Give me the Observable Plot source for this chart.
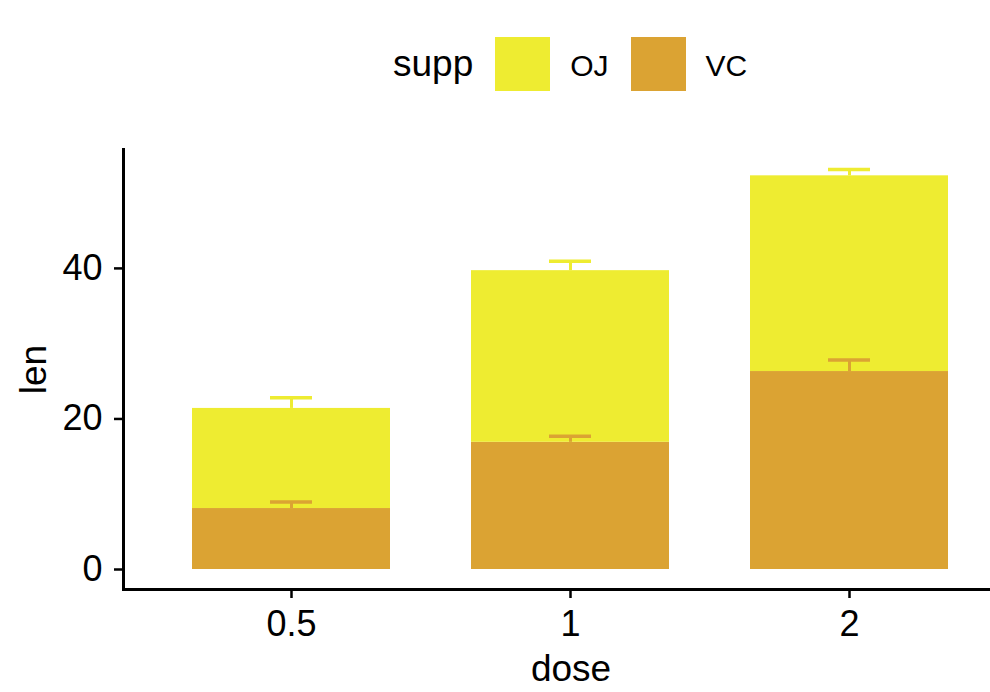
<!DOCTYPE html>
<html>
<head>
<meta charset="utf-8">
<script src="https://cdn.jsdelivr.net/npm/d3@7"></script>
<script src="https://cdn.jsdelivr.net/npm/@observablehq/plot@0.6"></script>
<style>
  html, body { margin: 0; padding: 0; background: #fff; overflow: hidden; }
  body { width: 990px; height: 692px; font-family: "Liberation Sans", Arial, Helvetica, sans-serif; }
  #legend { position: relative; height: 110px; }
  #legend .row { position: absolute; left: 393px; top: 37px; height: 54px; display: flex; align-items: center; }
  #legend .title { font-size: 37px; margin-right: 22px; color: #000; }
  #legend .sw { width: 55px; height: 54px; margin-right: 20px; }
  #legend .lab { font-size: 30px; margin-right: 22px; color: #000; position: relative; top: 2px; }
  #chart { width: 990px; overflow: hidden; }
  #chart svg { max-width: none !important; display: block; }
  #chart svg g[aria-label="y-axis tick label"] text,
  #chart svg g[aria-label="x-axis tick label"] text { font-size: 36px; }
</style>
</head>
<body>
<div id="legend"><div class="row"></div></div>
<div id="chart"></div>
<script>
// Data (ToothGrowth summary)
const doses = ["0.5", "1", "2"];
const supps = ["OJ", "VC"];
const suppColors = ["#EEEC31", "#DBA333"];
const vcMean = [8.1, 16.9, 26.3];
const vcSe   = [0.87, 0.80, 1.52];
const ojMean = [13.3, 22.8, 26.0];
const ojSe   = [1.41, 1.24, 0.84];
const yTicks = [0, 20, 40];

// Rows in stacking order: VC at bottom, OJ on top
const rows = [];
doses.forEach((d, i) => {
  rows.push({dose: d, supp: "VC", len: vcMean[i]});
  rows.push({dose: d, supp: "OJ", len: ojMean[i]});
});
// Upper error bars at the stacked tops
const errs = [];
doses.forEach((d, i) => {
  const vTop = vcMean[i];
  const oTop = vcMean[i] + ojMean[i];
  errs.push({dose: d, supp: "VC", y1: vTop, y2: vTop + vcSe[i]});
  errs.push({dose: d, supp: "OJ", y1: oTop, y2: oTop + ojSe[i]});
});
const yMax = d3.max(errs, e => e.y2);
const pad = 0.05 * yMax;

// Legend
const row = document.querySelector("#legend .row");
row.innerHTML = `<span class="title">supp</span>` +
  supps.map((s, i) => `<span class="sw" style="background:${suppColors[i]}"></span><span class="lab">${s}</span>`).join("");

const font = `"Liberation Sans", Arial, Helvetica, sans-serif`;
const chart = Plot.plot({
  width: 1018,
  height: 582,
  marginTop: 39,
  marginBottom: 103,
  marginLeft: 123,
  marginRight: 0,
  style: {fontFamily: font, fontSize: "36px", color: "#000", background: "#fff", maxWidth: "none"},
  x: {domain: doses, type: "band", paddingInner: 0.29, paddingOuter: 0.246},
  y: {domain: [-pad, yMax + pad]},
  color: {domain: supps, range: suppColors},
  marks: [
    Plot.barY(rows, {x: "dose", y: "len", fill: "supp"}),
    Plot.ruleX(errs, {x: "dose", y1: "y1", y2: "y2", stroke: "supp", strokeWidth: 3}),
    Plot.tickY(errs, {x: "dose", y: "y2", stroke: "supp", strokeWidth: 3.5, inset: 78}),
    Plot.frame({anchor: "left", stroke: "#000", strokeWidth: 3}),
    Plot.frame({anchor: "bottom", stroke: "#000", strokeWidth: 3}),
    Plot.axisY({ticks: yTicks, tickSize: 9, tickPadding: 12, strokeWidth: 2.5, fontSize: 36,
      label: null}),
    Plot.axisY({ticks: [], tickSize: 0, fontSize: 37,
      label: "len", labelAnchor: "center", labelArrow: "none", labelOffset: 104}),
    Plot.axisX({tickSize: 9, tickPadding: 12, strokeWidth: 2.5, fontSize: 36,
      label: null}),
    Plot.axisX({ticks: [], tickSize: 0, fontSize: 37,
      label: "dose", labelAnchor: "center", labelArrow: "none", labelOffset: 91})
  ]
});
document.getElementById("chart").appendChild(chart);
</script>
</body>
</html>
